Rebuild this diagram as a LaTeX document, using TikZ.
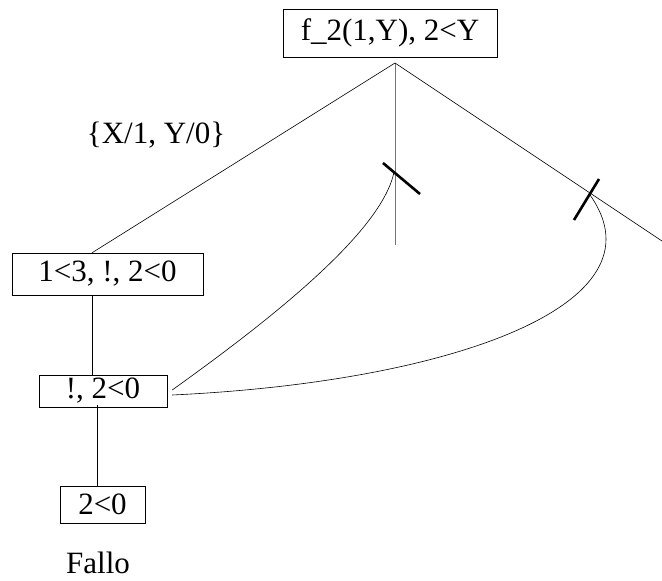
\documentclass[tikz,border=0pt]{standalone}
\usepackage{fontspec}
\setmainfont{Liberation Serif}
\usepackage{tikz}
\usetikzlibrary{calc}
\tikzset{
  goal/.style ={rectangle, draw, inner sep=0pt, align=center, font=\fontsize{31}{36}\selectfont},
  lbl/.style  ={inner sep=0pt, font=\fontsize{31}{36}\selectfont},
  br/.style   ={line width=0.6pt},
  mid/.style  ={line width=0.8pt, draw=black!55},
  cut/.style  ={line width=2.6pt},
  bk/.style   ={line width=0.6pt},
}
\begin{document}
\begin{tikzpicture}[x=1pt, y=-1pt]
  \useasboundingbox (0,0) rectangle (662,581);
  \node[goal, minimum width=214pt, minimum height=48pt] (g0) at (390,33) {f\_2(1,Y), 2<Y};
  \node[goal, minimum width=191pt, minimum height=42pt] (g1) at (107.5,274) {1<3, !, 2<0};
  \node[goal, minimum width=128pt, minimum height=32pt] (g2) at (103,391) {!, 2<0};
  \node[goal, minimum width=85pt, minimum height=37pt] (g3) at (102.5,504.5) {2<0};
  \node[lbl] (fail) at (98,563) {Fallo};
  \node[lbl] (subst) at (156,135) {\{X/1, Y/0\}};
  \coordinate (apex) at (395,63);
  \coordinate (c1) at (394,172);
  \coordinate (e1) at (395,245);
  \coordinate (c2) at (590,195);
  \coordinate (e2) at (662,241);
  % rami
  \draw[br] (apex) -- ($(g1.north)+(-15.5,0)$);
  \draw[mid] (apex) -- (e1);
  \draw[br] (apex) -- (e2);
  \draw[br] ($(g1.south)+(-15.5,0)$) -- ($(g2.north)+(-11,0)$);
  \draw[br] ($(g2.south)+(-6,-2)$) -- ($(g3.north)+(-5.5,0)$);
  % tagli
  \draw[cut] ($(c1)+(-11,-9)$) -- ($(c1)+(26,22)$);
  \draw[cut] ($(c2)+(9,-16)$) -- ($(c2)+(-16,25)$);
  \draw[bk] ($(g2.east)+(5,-1)$) .. controls (270,320) and (382,232) .. (c1);
  \draw[bk] ($(g2.east)+(5,4)$) .. controls (450,382) and (668,305) .. (c2);
\end{tikzpicture}
\end{document}
